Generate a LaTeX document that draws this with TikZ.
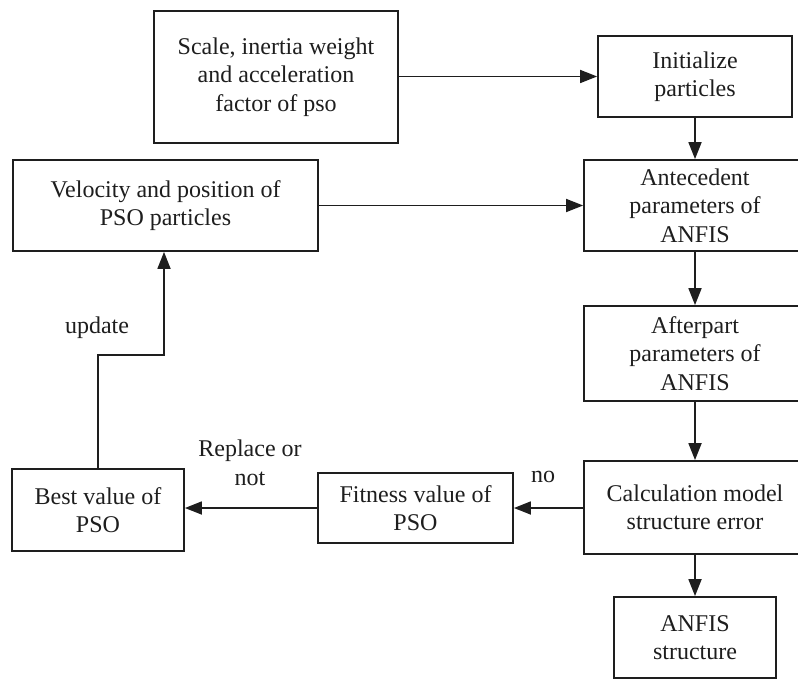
\documentclass[tikz,border=0pt]{standalone}
\usepackage{fontspec}
\setmainfont{Liberation Serif}
\usetikzlibrary{arrows.meta}
\definecolor{ink}{HTML}{1E1E1E}
\begin{document}
\begin{tikzpicture}[x=1pt,y=-1pt,
  box/.style={draw=ink,line width=1.8pt,inner sep=0pt,align=center,text=ink,
    font=\fontsize{24}{28.5}\selectfont},
  lbl/.style={inner sep=0pt,align=center,text=ink,font=\fontsize{24}{28.5}\selectfont},
  arr/.style={draw=ink,line width=1.8pt,-{Triangle[length=17pt,width=13pt]}},
  ln/.style={draw=ink,line width=1.8pt}]
\useasboundingbox (0,0) rectangle (798,679);
\fill[white] (0,0) rectangle (798,679);
\clip (0,0) rectangle (798,679);
\node[box,minimum width=244pt,minimum height=132pt] (scale) at (276,77) {Scale, inertia weight\\and acceleration\\factor of pso};
\node[box,minimum width=194pt,minimum height=81pt] (init) at (695,76.5) {Initialize\\particles};
\node[box,minimum width=305pt,minimum height=91pt] (vel) at (165.5,205.5) {Velocity and position of\\PSO particles};
\node[box,minimum width=222pt,minimum height=91pt] (ante) at (695,205.5) {Antecedent\\parameters of\\ANFIS};
\node[box,minimum width=222pt,minimum height=95pt] (after) at (695,353.5) {Afterpart\\parameters of\\ANFIS};
\node[box,minimum width=222pt,minimum height=93pt] (calc) at (695,507.5) {Calculation model\\structure error};
\node[box,minimum width=162pt,minimum height=81pt] (anfis) at (695,637.5) {ANFIS\\structure};
\node[box,minimum width=195pt,minimum height=70pt] (fit) at (415.5,508) {Fitness value of\\PSO};
\node[box,minimum width=172pt,minimum height=82pt] (best) at (98,510) {Best value of\\PSO};
\node[lbl] (lupdate) at (97,328) {update};
\node[lbl] (lno) at (543,477) {no};
\node[lbl] (lrep) at (250,463) {Replace or\\not};
\coordinate (e1) at (98,355);
\coordinate (e2) at (164,355);
\draw[arr] (scale.east |- init.west) -- (init.west);
\draw[arr] (init.south) -- (ante.north);
\draw[arr] (vel.east |- ante.west) -- (ante.west);
\draw[arr] (ante.south) -- (after.north);
\draw[arr] (after.south) -- (calc.north);
\draw[arr] (calc.south) -- (calc.south |- anfis.north);
\draw[arr] (calc.west |- fit.east) -- (fit.east);
\draw[arr] (fit.west) -- (best.east |- fit.west);
\draw[arr] (best.north) -- (e1) -- (e2) -- (e2 |- vel.south);
\end{tikzpicture}
\end{document}
